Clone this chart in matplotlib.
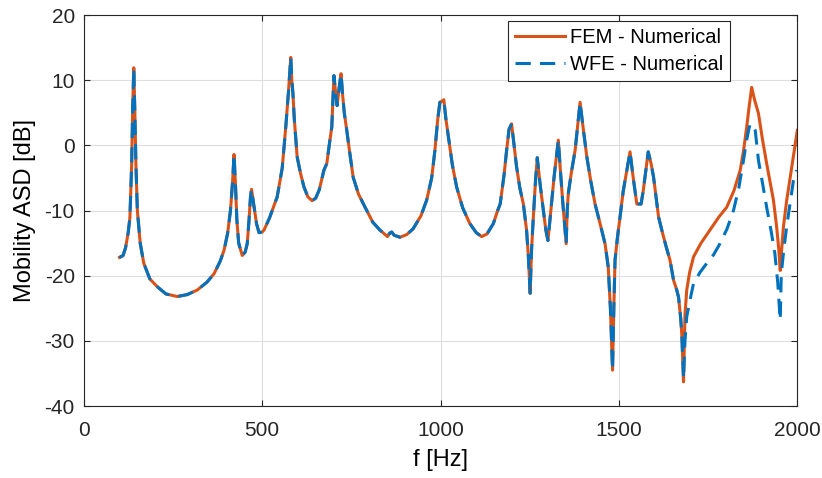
"""Mobilidade ASD: FEM vs WFE (estilo MATLAB)."""
import matplotlib
matplotlib.use('Agg')
import matplotlib.pyplot as plt
import numpy as np

plt.rcParams.update({
    'font.family': ['Liberation Sans', 'DejaVu Sans'],
    'font.size': 15,
    'axes.unicode_minus': False,
    'axes.edgecolor': '#262626',
    'xtick.color': '#262626', 'ytick.color': '#262626',
    'xtick.direction': 'in', 'ytick.direction': 'in',
    'xtick.top': True, 'ytick.right': True,
})

# trecho comum (as duas curvas coincidem ate ~1680 Hz)
freq_common = [100, 110, 117, 124, 129, 134, 137, 140, 143, 146, 150, 158, 168,
               185, 206, 230, 262, 290, 318, 345, 365, 382, 393, 403, 411, 417,
               421, 425, 429, 434, 444, 452, 458, 463, 467, 470, 476, 484, 491,
               500, 505, 520, 542, 556, 566, 574, 580, 583, 586, 590, 598, 607,
               617, 628, 640, 650, 660, 673, 681, 689, 695, 701, 706, 710, 716,
               721, 725, 730, 737, 745, 755, 770, 793, 810, 830, 851, 857, 863,
               870, 886, 905, 923, 945, 961, 975, 984, 992, 998, 1004, 1009,
               1015, 1022, 1033, 1045, 1062, 1082, 1100, 1115, 1130, 1148, 1160,
               1167, 1178, 1185, 1192, 1199, 1205, 1213, 1222, 1232, 1241, 1246,
               1251, 1255, 1260, 1266, 1271, 1279, 1288, 1295, 1301, 1310, 1318,
               1325, 1330, 1336, 1342, 1348, 1352, 1355, 1358, 1367, 1377, 1385,
               1391, 1400, 1410, 1421, 1433, 1447, 1461, 1470, 1476, 1482, 1486,
               1489, 1496, 1503, 1512, 1522, 1531, 1540, 1550, 1562, 1568, 1573,
               1582, 1590, 1597, 1611, 1620, 1632, 1643, 1653, 1662, 1667, 1673,
               1676]
mob_common = [-17.2, -16.9, -15.7, -13.5, -11.2, -3, 6, 11.9, 5, -3, -10, -15,
              -18.1, -20.5, -21.7, -22.8, -23.2, -22.9, -22.2, -21, -19.7,
              -17.8, -16.1, -13.5, -10, -5.5, -1.4, -6, -11.5, -15, -16.9,
              -16.4, -15.1, -11.5, -8, -6.75, -9, -12, -13.4, -13.3, -13,
              -11.2, -7.9, -3.5, 2.8, 8.5, 13.5, 10, 8, 4, -1.8, -4.2, -6.4,
              -7.9, -8.5, -8.1, -6.8, -3.8, -2.8, 0.5, 2.8, 10.7, 8, 6.1, 9,
              11, 8, 5, 2.3, -1, -4.9, -7.5, -10, -11.8, -13, -14, -13.5,
              -13.3, -13.8, -14.1, -13.7, -12.8, -10.8, -8.4, -5, -0.8, 4, 6.6,
              6.8, 7.0, 4, 1.3, -3, -6.4, -9.6, -12, -13.4, -14, -13.6, -12,
              -10, -9, -4.5, -0.8, 2.5, 3.3, 0.5, -3.3, -6.5, -9, -13, -17,
              -22.7, -16, -11, -5.5, -1.9, -6, -10, -13, -14.6, -9.5, -4.9,
              -1.5, 0.8, -4, -8.4, -12.5, -15.1, -10, -7.4, -4, -0.8, 3.5, 6.6,
              2.5, -1.8, -5.5, -9, -12, -15.1, -18.7, -25, -34.5, -24, -17.6,
              -14, -11, -7, -3.8, -1, -5, -9, -9, -7, -4.9, -1.0, -2.8, -4.9,
              -11, -13, -15.5, -17.6, -20.7, -22.2, -23.3, -26.5, -28.9]

# trecho final, onde as curvas se separam
freq_fem_tail = [1681, 1685, 1690, 1698, 1709, 1730, 1755, 1780, 1802, 1822,
                 1840, 1850, 1858, 1865, 1872, 1880, 1891, 1902, 1914, 1925,
                 1933, 1942, 1948, 1952, 1956, 1961, 1970, 1980, 1990, 2000]
mob_fem_tail = [-36.3, -26, -22.2, -19.5, -17.1, -15, -13, -11, -9.5, -7,
                -3.8, -0.5, 2.8, 6, 8.9, 7, 4.9, 1, -2.8, -6, -8.4, -12.5,
                -16, -19.2, -16, -12.5, -8.5, -4.9, -1.3, 2.3]
freq_wfe_tail = [1681, 1685, 1690, 1700, 1709, 1727, 1746, 1765, 1783, 1803,
                 1821, 1836, 1849, 1858, 1864, 1868, 1873, 1882, 1891, 1903,
                 1914, 1926, 1937, 1945, 1952, 1955, 1962, 1970, 1980, 1989,
                 1998]
mob_wfe_tail = [-35.8, -30, -26.3, -23.5, -21.2, -19.5, -18.1, -16.8, -15.1,
                -12.8, -10, -6.5, -2.3, 0.8, 2.5, 3.3, 3.2, 2.3, -2.3, -6,
                -9.5, -13, -16.6, -21, -26.8, -19.7, -16, -12.5, -8.8, -5.4,
                -3.8]

f_fem = np.r_[freq_common, freq_fem_tail]
y_fem = np.r_[mob_common, mob_fem_tail]
f_wfe = np.r_[freq_common, freq_wfe_tail]
y_wfe = np.r_[mob_common, mob_wfe_tail]

fig = plt.figure(figsize=(8.22, 4.78), dpi=100)
ax = fig.add_axes([0.102, 0.1506, 0.868, 0.818])
ax.plot(f_fem, y_fem, color='#D95319', lw=2.2, label='FEM - Numerical')
ax.plot(f_wfe, y_wfe, color='#0072BD', lw=2.2, ls='--', dashes=(5, 3),
        label='WFE - Numerical')

ax.set_xlim(0, 2000)
ax.set_ylim(-40, 20)
ax.set_xticks([0, 500, 1000, 1500, 2000])
ax.set_yticks(range(-40, 21, 10))
ax.grid(True, color='#dedede', lw=0.8)
ax.set_axisbelow(True)
ax.tick_params(length=4, width=0.8, labelsize=15)
ax.tick_params(axis='x', pad=11)
ax.tick_params(axis='y', pad=6.5)
for s in ax.spines.values():
    s.set_linewidth(0.8)
ax.set_xlabel('f [Hz]', fontsize=17)
ax.set_ylabel('Mobility ASD [dB]', fontsize=17)
ax.xaxis.set_label_coords(0.5, -0.11)
ax.yaxis.set_label_coords(-0.067, 0.5)

leg = ax.legend(loc='upper right', bbox_to_anchor=(0.906, 0.985),
                borderaxespad=0, fontsize=14.5, fancybox=False, framealpha=1,
                edgecolor='#262626', handlelength=2.5, borderpad=0.35,
                labelspacing=0.42, handletextpad=0.25)
leg.get_frame().set_linewidth(0.8)

fig.savefig('out.png', dpi=100)
